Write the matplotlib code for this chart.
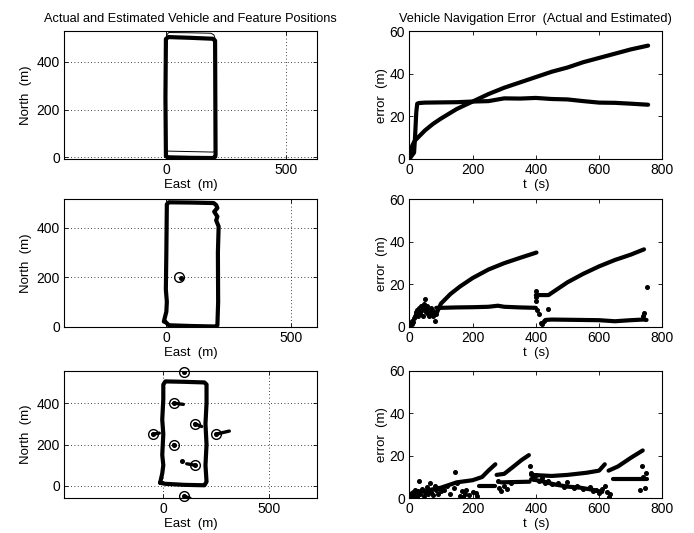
import matplotlib.pyplot as plt

plt.rcParams['font.family'] = ['Liberation Sans', 'DejaVu Sans']

# ---- top row: dead reckoning only ----
tl_est_east = [0, -2, 0, 10, 100, 195, 205, 206, 207, 205, 195, 100, 10, 0]
tl_est_north = [5, 250, 495, 503, 500, 496, 488, 250, 10, 2, -3, -2, 0, 5]
tl_act_east = [0, 1, 3, 12, 100, 188, 200, 206, 210, 211, 205, 195, 100, 10, 0]
tl_act_north = [27, 300, 512, 522, 521, 519, 512, 495, 250, 40, 25, 22, 24, 26, 27]

tr_t_a = [0, 3, 6, 10, 15, 20, 30, 40, 50, 75, 100, 150, 200, 250, 300, 350,
          400, 450, 500, 550, 600, 650, 700, 755]
tr_err_a = [0, 3, 5, 6.5, 8, 9, 10.5, 12, 13.5, 16.5, 19, 23.5, 27, 30.5, 33.5,
            36, 38.5, 41, 43, 45.5, 47.5, 49.5, 51.5, 53.3]
tr_t_b = [0, 5, 10, 15, 18, 22, 25, 30, 50, 100, 150, 200, 250, 300, 350, 400,
          450, 500, 550, 600, 650, 700, 755]
tr_err_b = [0, 1, 2, 3, 10, 22, 26, 26.3, 26.5, 26.6, 26.7, 27, 27.2, 28.5, 28.4,
            28.7, 28.2, 28, 27.2, 26.5, 26.4, 26, 25.5]

# ---- middle row: one feature ----
ml_east = [-10, -5, 0, 2, -2, 0, 2, 10, 100, 190, 200, 205, 192, 205, 200, 210,
           207, 208, 205, 195, 100, 10, -5]
ml_north = [20, 40, 60, 100, 150, 300, 495, 503, 502, 500, 492, 480, 465, 445,
            430, 405, 300, 100, 5, 0, 2, 5, 20]
ml_lm_east = [50]
ml_lm_north = [200]
ml_fe_east = [60]
ml_fe_north = [198]

mr_t_a1 = [88, 100, 130, 160, 200, 250, 300, 350, 402]
mr_err_a1 = [7, 11, 15.5, 19, 23, 27, 30, 32.5, 35]
mr_t_a2 = [400, 440, 460, 500, 550, 600, 650, 700, 742]
mr_err_a2 = [15, 15, 17, 21, 25, 28.5, 31.5, 34, 36.5]
mr_t_b1 = [85, 100, 150, 200, 250, 280, 300, 350, 400]
mr_err_b1 = [9, 9, 9.2, 9.3, 9.5, 10, 9.5, 9.2, 9]
mr_t_b2 = [430, 450, 500, 550, 600, 650, 700, 740, 750]
mr_err_b2 = [3.3, 3.5, 3.4, 3.3, 3.2, 2.7, 3.2, 3.5, 3.3]
mr_noise_t = [2, 5, 8, 10, 12, 15, 18, 20, 22, 25, 28, 30, 33, 35, 38, 40, 43, 45,
              48, 50, 53, 55, 58, 60, 63, 65, 68, 70, 73, 75, 78, 80, 83,
              400, 400, 400, 405, 410, 415, 420, 425, 440, 740, 742, 750]
mr_noise_err = [1, 2, 1.5, 3, 2.5, 4, 5, 7, 6, 8, 5, 9, 7, 6, 10, 8, 5, 11, 13, 9,
                7, 10, 6, 8, 5, 7, 9, 6, 8, 5, 7, 3, 6,
                12, 14, 17, 8, 6, 2, 1.5, 3, 8.5, 5, 6.5, 19]

# ---- bottom row: eight features ----
bl_east = [-15, -5, 0, -5, 0, -5, 0, 0, 10, 100, 195, 205, 205, 200, 205, 200,
           205, 195, 100, 10, -15]
bl_north = [15, 60, 100, 150, 250, 320, 420, 490, 505, 503, 500, 490, 400, 300,
            200, 100, 20, 3, 5, 10, 15]
bl_lm_east = [100, 50, 150, -50, 250, 50, 150, 100]
bl_lm_north = [550, 400, 300, 250, 250, 200, 100, -50]
bl_fe_east = [100, 95, 182, -19, 313, 55, 111, 127]
bl_fe_north = [550, 394, 287, 255, 265, 197, 107, -60]
bl_stray_east = [87]
bl_stray_north = [120]

br_t_u1 = [0, 50, 100, 150, 200, 230, 250, 272]
br_err_u1 = [2, 3.5, 5, 7.5, 8.5, 10, 13, 16]
br_t_u2 = [276, 300, 330, 355, 378]
br_err_u2 = [11, 11.5, 15, 18, 20.3]
br_t_u3 = [385, 450, 500, 560, 600, 618]
br_err_u3 = [11, 10.5, 11, 12, 13, 16]
br_t_u4 = [630, 660, 700, 738]
br_err_u4 = [13, 15, 19, 22.5]
br_t_l1 = [220, 270]
br_err_l1 = [6, 6]
br_t_l2 = [290, 380]
br_err_l2 = [7.5, 7.8]
br_t_l3 = [645, 750]
br_err_l3 = [9, 9]
br_t_l4 = [385, 420, 460, 500, 540, 580, 610]
br_err_l4 = [9, 8, 6.5, 5.5, 5, 4, 3]
br_noise_t = [2, 5, 8, 12, 15, 18, 22, 25, 28, 30, 35, 40, 45, 50, 55, 60, 65, 70,
              75, 80, 85, 90, 95, 100, 110, 120, 130, 140, 145, 150, 160, 165, 170,
              175, 180, 190, 200, 210, 215, 280, 285, 290, 300, 310, 320,
              380, 385, 390, 395, 400, 410, 420, 430, 440, 450, 470, 490, 500, 520,
              530, 550, 570, 580, 590, 600, 610, 620, 625, 630, 635,
              730, 735, 740, 745, 748]
br_noise_err = [1, 2, 0.5, 3, 1.5, 4, 2, 0.8, 3.5, 8, 2, 4.5, 1, 3, 5.5, 2, 7, 3,
                1.5, 6, 4, 2, 5, 3.5, 4, 6, 2, 5, 12.5, 7, 1, 3.5, 0.5, 2, 4, 1.5,
                3, 2.5, 1, 8, 5, 3.5, 6, 4.5, 7,
                15, 12, 10, 9, 11, 8, 9.5, 7, 8, 6.5, 7, 5.5, 7.5, 5, 6, 4.5, 5.5,
                3.5, 4, 2.5, 4.5, 6, 3, 0.5, 2,
                4, 15, 10, 5, 12]

map_xlim = [(-425, 630), (-411, 605), (-471, 729)]
map_ylim = [(-7, 527), (-2, 515), (-60, 557)]

fig = plt.figure(figsize=(6.94, 5.33), dpi=100)

rows_bottom = [0.7017, 0.3865, 0.0651]
h = 0.2395
left_axes = [fig.add_axes([0.0922, b, 0.3646, h]) for b in rows_bottom]
right_axes = [fig.add_axes([0.5898, b, 0.3646, h]) for b in rows_bottom]

thick = dict(color='black', lw=3.0, solid_joinstyle='round', solid_capstyle='round')
dot = dict(color='black', ls='none', marker='o', ms=2.6)


def style(ax):
    ax.tick_params(direction='in', length=3, width=0.6, top=True, right=True,
                   labelsize=10, pad=3)
    for s in ax.spines.values():
        s.set_linewidth(0.8)


for i, ax in enumerate(left_axes):
    ax.set_xlim(*map_xlim[i])
    ax.set_ylim(*map_ylim[i])
    ax.set_xticks([0, 500])
    ax.set_yticks([0, 200, 400])
    ax.grid(True, color='black', ls=(0, (1, 3)), lw=0.6)
    ax.set_axisbelow(True)
    ax.set_xlabel('East  (m)', fontsize=9.5, labelpad=1)
    ax.set_ylabel('North  (m)', fontsize=9.5, labelpad=3)
    style(ax)

for ax in right_axes:
    ax.set_xlim(0, 800)
    ax.set_ylim(0, 60)
    ax.set_xticks([0, 200, 400, 600, 800])
    ax.set_yticks([0, 20, 40, 60])
    ax.set_xlabel('t  (s)', fontsize=9.5, labelpad=1)
    ax.set_ylabel('error  (m)', fontsize=9.5, labelpad=1)
    style(ax)

# top row
ax = left_axes[0]
ax.plot(tl_est_east, tl_est_north, **thick)
ax.plot(tl_act_east, tl_act_north, color='black', lw=0.7)
ax.set_title('Actual and Estimated Vehicle and Feature Positions', fontsize=9.2, pad=7)

ax = right_axes[0]
ax.plot(tr_t_a, tr_err_a, **thick)
ax.plot(tr_t_b, tr_err_b, **thick)
ax.set_title('Vehicle Navigation Error  (Actual and Estimated)', fontsize=9.2, pad=7)

# middle row
ax = left_axes[1]
ax.plot(ml_east, ml_north, **thick)
ax.plot(ml_lm_east, ml_lm_north, ls='none', marker='o', ms=7, mfc='none',
        mec='black', mew=1, clip_on=False)
ax.plot(ml_fe_east, ml_fe_north, **dot)

ax = right_axes[1]
for t, e in [(mr_t_a1, mr_err_a1), (mr_t_a2, mr_err_a2),
             (mr_t_b1, mr_err_b1), (mr_t_b2, mr_err_b2)]:
    ax.plot(t, e, **thick)
ax.plot(mr_noise_t, mr_noise_err, **dot)

# bottom row
ax = left_axes[2]
ax.plot(bl_east, bl_north, **thick)
for lx, ly, fx, fy in zip(bl_lm_east, bl_lm_north, bl_fe_east, bl_fe_north):
    ax.plot([lx, fx], [ly, fy], color='black', lw=2.4, solid_capstyle='round')
ax.plot(bl_lm_east, bl_lm_north, ls='none', marker='o', ms=7, mfc='none',
        mec='black', mew=1, clip_on=False)
ax.plot(bl_lm_east, bl_lm_north, **dot)
ax.plot(bl_stray_east, bl_stray_north, **dot)

ax = right_axes[2]
for t, e in [(br_t_u1, br_err_u1), (br_t_u2, br_err_u2), (br_t_u3, br_err_u3),
             (br_t_u4, br_err_u4), (br_t_l1, br_err_l1), (br_t_l2, br_err_l2),
             (br_t_l3, br_err_l3), (br_t_l4, br_err_l4)]:
    ax.plot(t, e, **thick)
ax.plot(br_noise_t, br_noise_err, **dot)

fig.savefig('out.png', dpi=100)
